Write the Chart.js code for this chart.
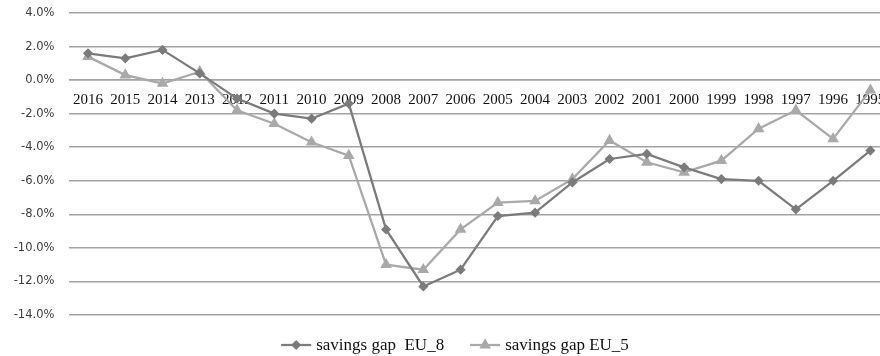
<!DOCTYPE html>
<html>
<head>
<meta charset="utf-8">
<title>Savings gap EU_8 vs EU_5</title>
<script src="https://cdn.jsdelivr.net/npm/chart.js@4/dist/chart.umd.min.js"></script>
<style>
  html, body { margin: 0; padding: 0; background: #fff; overflow: hidden; }
  #wrap { width: 880px; height: 356px; overflow: hidden; }
  canvas { display: block; }
</style>
</head>
<body>
<div id="wrap"><canvas id="chart" width="910" height="356"></canvas></div>
<script>
// Years, newest first
const years = ['2016','2015','2014','2013','2012','2011','2010','2009','2008','2007','2006',
               '2005','2004','2003','2002','2001','2000','1999','1998','1997','1996','1995'];

// Savings gap, % of GDP
const gapEU8 = [1.6, 1.3, 1.8, 0.4, -1.1, -2.0, -2.3, -1.4, -8.9, -12.3, -11.3,
                -8.1, -7.9, -6.1, -4.7, -4.4, -5.2, -5.9, -6.0, -7.7, -6.0, -4.2];
const gapEU5 = [1.4, 0.3, -0.2, 0.5, -1.8, -2.6, -3.7, -4.5, -11.0, -11.3, -8.9,
                -7.3, -7.2, -5.9, -3.6, -4.9, -5.5, -4.8, -2.9, -1.8, -3.5, -0.6];

// Value axis ticks
const yTicks = [4, 2, 0, -2, -4, -6, -8, -10, -12, -14];

const seriesNames = ['savings gap  EU_8', 'savings gap EU_5'];

const DARK = '#7b7b7b';
const LIGHT = '#a9a9a9';
const SERIF = '"Liberation Serif", "Times New Roman", serif';

// Legend drawn as line + marker samples, centred under the plot
const lineLegend = {
  id: 'lineLegend',
  afterDraw(chart) {
    const ctx = chart.ctx;
    const y = 345;
    const sample = 30, gapText = 5, gapItem = 26;
    ctx.save();
    ctx.font = '17px ' + SERIF;
    const items = chart.data.datasets.map(ds => ({
      ds, w: ctx.measureText(ds.label).width
    }));
    let total = 0;
    items.forEach((it, i) => { total += sample + gapText + it.w + (i ? gapItem : 0); });
    let x = 455 - total / 2;
    items.forEach((it, i) => {
      if (i) x += gapItem;
      const ds = it.ds;
      ctx.strokeStyle = ds.borderColor;
      ctx.lineWidth = ds.borderWidth;
      ctx.beginPath();
      ctx.moveTo(x, y);
      ctx.lineTo(x + sample, y);
      ctx.stroke();
      ctx.fillStyle = ds.pointBackgroundColor;
      Chart.helpers.drawPoint(ctx, {
        pointStyle: ds.pointStyle, radius: ds.pointRadius, rotation: 0, borderWidth: 1
      }, x + sample / 2, y);
      x += sample + gapText;
      ctx.fillStyle = '#111';
      ctx.textBaseline = 'middle';
      ctx.textAlign = 'left';
      ctx.fillText(ds.label, x, y + 1);
      x += it.w;
    });
    ctx.restore();
  }
};

new Chart(document.getElementById('chart'), {
  type: 'line',
  data: {
    labels: years,
    datasets: [
      {
        label: seriesNames[0],
        data: gapEU8,
        borderColor: DARK,
        backgroundColor: DARK,
        pointBackgroundColor: DARK,
        pointBorderColor: DARK,
        borderWidth: 2.25,
        pointStyle: 'rectRot',
        pointRadius: 3.5,
        tension: 0
      },
      {
        label: seriesNames[1],
        data: gapEU5,
        borderColor: LIGHT,
        backgroundColor: LIGHT,
        pointBackgroundColor: LIGHT,
        pointBorderColor: LIGHT,
        borderWidth: 2.25,
        pointStyle: 'triangle',
        pointRadius: 4.5,
        tension: 0
      }
    ]
  },
  options: {
    responsive: false,
    animation: false,
    devicePixelRatio: 1,
    layout: { padding: { top: 13, right: 21, bottom: 41, left: 0 } },
    plugins: {
      legend: { display: false },
      tooltip: { enabled: false }
    },
    scales: {
      x: {
        type: 'category',
        position: { y: 0 },
        offset: true,
        // the axis sits on the zero line, so it takes no room of its own
        afterFit(scale) { scale.height = 0; },
        grid: { display: false, drawTicks: false },
        border: { display: true, color: '#a3a3a3', width: 1.5 },
        ticks: {
          autoSkip: false,
          maxRotation: 0,
          minRotation: 0,
          padding: 11,
          color: '#111',
          font: { family: SERIF, size: 15 }
        }
      },
      y: {
        min: -14,
        max: 4,
        afterFit(scale) { scale.width = 69.4; },
        afterBuildTicks(scale) { scale.ticks = yTicks.map(v => ({ value: v })); },
        grid: {
          color: '#a3a3a3',
          lineWidth: 1.5,
          drawTicks: true,
          tickLength: 12,
          tickColor: 'rgba(0,0,0,0)'
        },
        border: { display: false },
        ticks: {
          padding: 3,
          color: '#3c3c3c',
          font: { family: '"DejaVu Sans", Verdana, sans-serif', size: 11.5 },
          callback: v => v.toFixed(1) + '%'
        }
      }
    }
  },
  plugins: [lineLegend]
});
</script>
</body>
</html>
